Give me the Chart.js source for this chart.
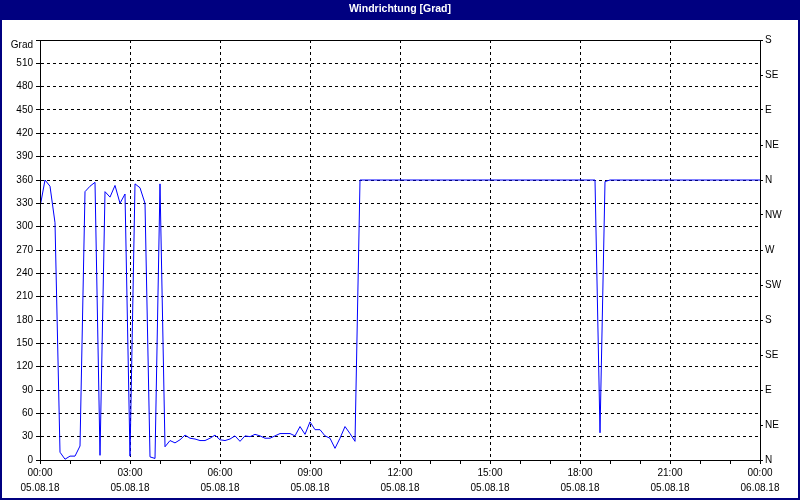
<!DOCTYPE html>
<html lang="de">
<head>
  <meta charset="UTF-8">
  <title>Windrichtung [Grad]</title>
  <script src="https://cdn.jsdelivr.net/npm/chart.js"></script>
  <style>
    body {
      margin: 0;
      background: #fff;
    }
    .wrap {
      position: relative;
      width: 800px;
      height: 500px;
    }
  </style>
</head>
<body>
  <div class="wrap"><canvas id="windChart"></canvas></div>

  <script>
    // Readings every 10 minutes, 05.08.18 00:00 until 06.08.18 00:00
    const intervalMin = 10;
    const direction = [
      325, 360, 352, 305, 10, 1, 5, 5, 18, 345,
      352, 357, 6, 345, 338, 353, 330, 342, 5, 355,
      350, 330, 4, 2, 355, 17, 25, 22, 26, 32,
      28, 27, 25, 25, 28, 32, 26, 25, 27, 31,
      24, 31, 30, 33, 31, 28, 28, 31, 34, 34,
      34, 31, 43, 33, 49, 39, 39, 31, 28, 15,
      28, 43, 34, 24, 360, 360, 360, 360, 360, 360,
      360, 360, 360, 360, 360, 360, 360, 360, 360, 360,
      360, 360, 360, 360, 360, 360, 360, 360, 360, 360,
      360, 360, 360, 360, 360, 360, 360, 360, 360, 360,
      360, 360, 360, 360, 360, 360, 360, 360, 360, 360,
      360, 360, 35, 358, 360, 360, 360, 360, 360, 360,
      360, 360, 360, 360, 360, 360, 360, 360, 360, 360,
      360, 360, 360, 360, 360, 360, 360, 360, 360, 360,
      360, 360, 360, 360, 360
    ];

    const hourLabels = ['00:00', '03:00', '06:00', '09:00', '12:00', '15:00', '18:00', '21:00', '00:00'];
    const dateLabels = ['05.08.18', '05.08.18', '05.08.18', '05.08.18', '05.08.18', '05.08.18', '05.08.18', '05.08.18', '06.08.18'];
    const compassLabels = ['N', 'NE', 'E', 'SE', 'S', 'SW', 'W', 'NW', 'N', 'NE', 'E', 'SE', 'S'];

    const FONT = "Tahoma, 'Liberation Sans', Arial, sans-serif";
    Chart.defaults.font.family = FONT;
    Chart.defaults.font.size = 10;
    Chart.defaults.color = '#000';

    // navy frame + title bar, solid plot border and the "Grad" unit label
    const framePlugin = {
      id: 'frame',
      beforeDraw(chart) {
        const ctx = chart.ctx;
        ctx.save();
        ctx.fillStyle = '#ffffff';
        ctx.fillRect(0, 0, chart.width, chart.height);
        ctx.fillStyle = '#000080';
        ctx.fillRect(0, 0, chart.width, 20);
        ctx.strokeStyle = '#000080';
        ctx.lineWidth = 2;
        ctx.strokeRect(1, 1, chart.width - 2, chart.height - 2);
        ctx.restore();
      },
      afterDraw(chart) {
        const ctx = chart.ctx;
        const a = chart.chartArea;
        ctx.save();
        ctx.strokeStyle = '#000';
        ctx.lineWidth = 1;
        ctx.strokeRect(Math.round(a.left) + 0.5, Math.round(a.top) + 0.5,
          Math.round(a.right - a.left), Math.round(a.bottom - a.top));
        ctx.fillStyle = '#000';
        ctx.font = '10px ' + FONT;
        ctx.textAlign = 'right';
        ctx.textBaseline = 'middle';
        ctx.fillText('Grad', 33, 45);
        ctx.restore();
      }
    };

    const points = direction.map((v, i) => ({ x: i * intervalMin, y: v }));

    new Chart(document.getElementById('windChart').getContext('2d'), {
      type: 'line',
      data: {
        datasets: [{
          label: 'Windrichtung',
          data: points,
          borderColor: '#0000ff',
          borderWidth: 1,
          pointRadius: 0,
          tension: 0,
          fill: false
        }]
      },
      options: {
        responsive: true,
        maintainAspectRatio: false,
        animation: false,
        layout: { padding: 0 },
        plugins: {
          legend: { display: false },
          tooltip: { enabled: false },
          title: {
            display: true,
            text: 'Windrichtung [Grad]',
            color: '#fff',
            font: { size: 10.5, weight: 'bold', family: FONT },
            padding: { top: 3, bottom: 24.4 }
          }
        },
        scales: {
          x: {
            type: 'linear',
            position: 'bottom',
            min: 0,
            max: 1440,
            afterFit: s => { s.height = 40; },
            ticks: {
              stepSize: 60,
              autoSkip: false,
              maxRotation: 0,
              padding: 2,
              font: { size: 10, lineHeight: 1.5 },
              callback: v => {
                if (v % 180 !== 0) return '';
                const k = v / 180;
                return [hourLabels[k], dateLabels[k]];
              }
            },
            grid: {
              color: ctx => (ctx.tick && ctx.tick.value % 180 === 0) ? '#000' : 'rgba(0,0,0,0)',
              tickColor: '#000',
              tickLength: 4
            },
            border: { display: true, color: '#000', dash: [3, 3] }
          },
          y: {
            position: 'left',
            min: 0,
            max: 540,
            afterFit: s => { s.width = 40; },
            ticks: {
              stepSize: 30,
              padding: 3,
              callback: v => v === 540 ? '' : v
            },
            grid: {
              color: '#000',
              tickColor: '#000',
              tickLength: 4
            },
            border: { display: true, color: '#000', dash: [3, 3] }
          },
          y2: {
            position: 'right',
            min: 0,
            max: 540,
            afterFit: s => { s.width = 40; },
            ticks: {
              stepSize: 45,
              padding: 2,
              callback: v => compassLabels[v / 45]
            },
            grid: {
              drawOnChartArea: false,
              tickColor: '#000',
              tickLength: 3
            },
            border: { display: true, color: '#000' }
          }
        }
      },
      plugins: [framePlugin]
    });
  </script>
</body>
</html>
